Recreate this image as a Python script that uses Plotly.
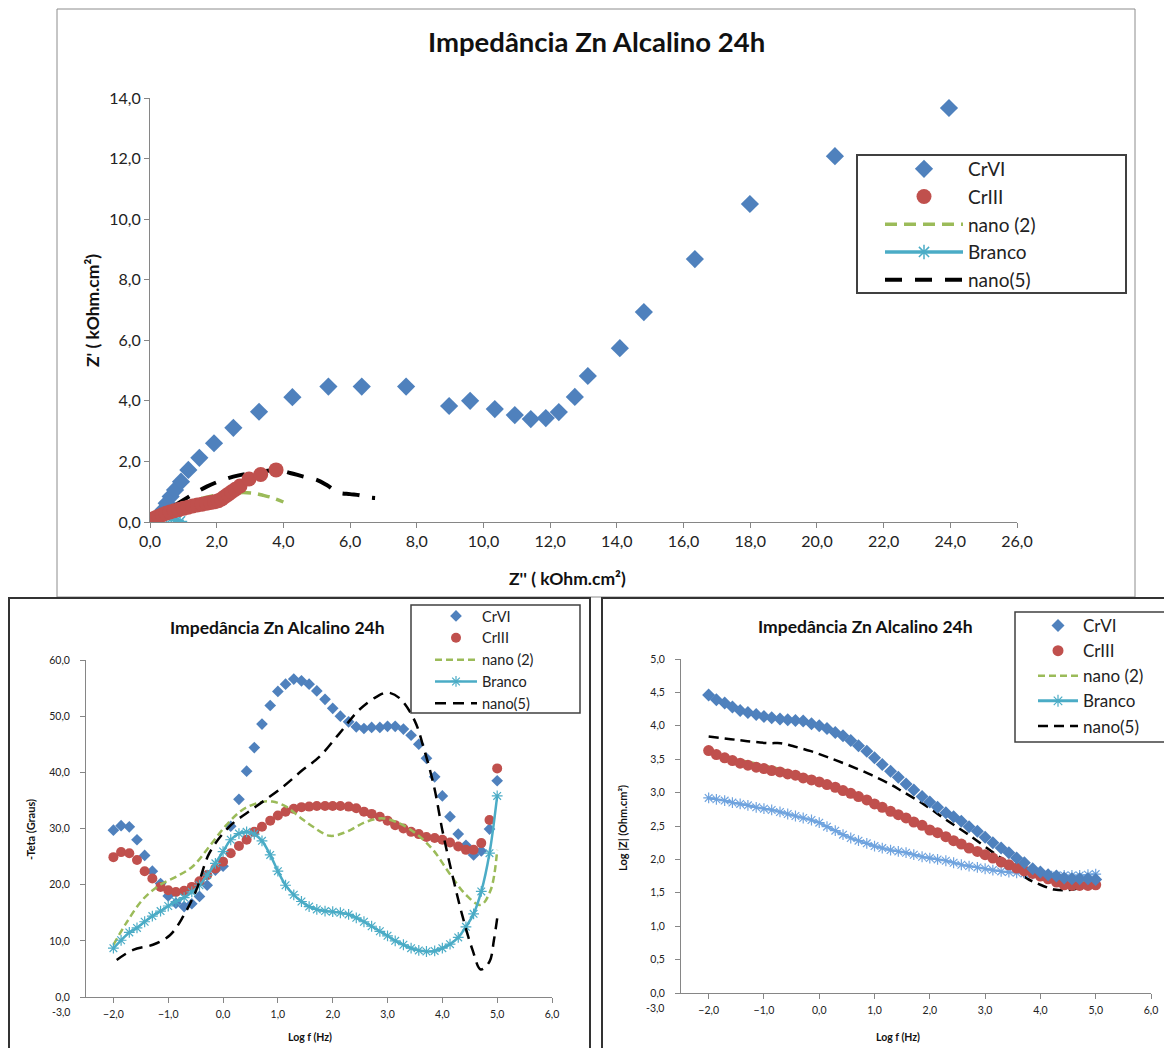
import plotly.graph_objects as go

# ---------------- DATA ----------------
# Nyquist (top chart), kOhm.cm2
NYQ_CRVI_X = [0.05, 0.12, 0.20, 0.30, 0.40, 0.50, 0.62, 0.75, 0.93, 1.15, 1.48, 1.92, 2.50, 3.27,
              4.27, 5.35, 6.35, 7.68, 8.97, 9.60, 10.34, 10.94, 11.42, 11.87, 12.26, 12.74, 13.13,
              14.09, 14.81, 16.34, 17.99, 20.54, 23.96]
NYQ_CRVI_Y = [0.00, 0.03, 0.10, 0.23, 0.40, 0.62, 0.84, 1.06, 1.33, 1.72, 2.12, 2.60, 3.11, 3.64,
              4.12, 4.47, 4.47, 4.47, 3.83, 4.00, 3.73, 3.53, 3.40, 3.43, 3.63, 4.13, 4.82,
              5.74, 6.93, 8.68, 10.50, 12.08, 13.67]
NYQ_CRIII_X = [0.00, 0.05, 0.10, 0.18, 0.27, 0.37, 0.48, 0.60, 0.73, 0.86, 1.00, 1.14, 1.28, 1.42,
               1.56, 1.70, 1.82, 1.94, 2.05, 2.15, 2.25, 2.35, 2.45, 2.56, 2.70, 2.97, 3.32, 3.78]
NYQ_CRIII_Y = [0.05, 0.08, 0.11, 0.15, 0.19, 0.24, 0.29, 0.33, 0.37, 0.41, 0.45, 0.49, 0.53, 0.56,
               0.59, 0.62, 0.64, 0.67, 0.70, 0.76, 0.84, 0.92, 1.00, 1.08, 1.19, 1.42, 1.57, 1.72]
NYQ_NANO2_X = [0.0, 0.3, 0.7, 1.0, 1.4, 2.0, 2.5, 2.8, 3.1, 3.4, 3.7, 4.0]
NYQ_NANO2_Y = [0.0, 0.22, 0.45, 0.58, 0.73, 0.89, 0.95, 0.97, 0.95, 0.88, 0.79, 0.66]
NYQ_BRANCO_X = [0.0, 0.1, 0.2, 0.35, 0.5, 0.65, 0.8, 0.9]
NYQ_BRANCO_Y = [0.0, 0.08, 0.14, 0.18, 0.17, 0.12, 0.06, 0.02]
NYQ_NANO5_X = [0.0, 0.4, 0.85, 1.7, 2.5, 3.2, 3.8, 4.2, 4.6, 5.0, 5.3, 5.65, 6.0, 6.3, 6.5, 6.75]
NYQ_NANO5_Y = [0.0, 0.30, 0.62, 1.17, 1.50, 1.64, 1.72, 1.62, 1.50, 1.39, 1.22, 0.97, 0.92, 0.88, 0.82, 0.79]

# Bode (bottom charts): log f, 7 points per decade
LOGF = [-2.00, -1.86, -1.71, -1.57, -1.43, -1.29, -1.14, -1.00, -0.86, -0.71, -0.57, -0.43, -0.29,
        -0.14, 0.00, 0.14, 0.29, 0.43, 0.57, 0.71, 0.86, 1.00, 1.14, 1.29, 1.43, 1.57, 1.71, 1.86,
        2.00, 2.14, 2.29, 2.43, 2.57, 2.71, 2.86, 3.00, 3.14, 3.29, 3.43, 3.57, 3.71, 3.86, 4.00,
        4.14, 4.29, 4.43, 4.57, 4.71, 4.86, 5.00]

# -Theta (degrees)
PH_CRVI = [29.7, 30.5, 30.3, 28.0, 25.2, 22.4, 20.2, 18.0, 16.7, 16.1, 16.6, 17.9, 19.9, 22.6, 23.3,
           30.4, 35.2, 40.2, 44.4, 48.6, 51.9, 54.4, 55.7, 56.6, 56.3, 55.7, 54.5, 53.0, 51.4, 50.0,
           49.0, 48.1, 47.8, 48.0, 48.0, 48.2, 48.2, 47.7, 46.6, 45.0, 42.5, 39.2, 35.8, 32.1, 29.0,
           27.0, 25.3, 26.0, 29.9, 38.5]
PH_CRIII = [24.9, 25.8, 25.6, 24.4, 22.4, 21.1, 19.6, 19.0, 18.7, 18.9, 19.6, 20.6, 21.7, 22.9, 24.1,
            25.6, 26.9, 28.0, 29.4, 30.3, 31.4, 32.3, 33.0, 33.5, 33.8, 33.9, 34.0, 34.0, 34.0, 34.0,
            33.9, 33.6, 33.0, 32.6, 32.1, 31.4, 30.6, 30.0, 29.4, 29.0, 28.5, 28.3, 28.0, 27.5, 26.8,
            26.2, 26.2, 27.4, 31.5, 40.7]
PH_BRANCO = [8.7, 10.1, 11.5, 12.3, 13.4, 14.4, 15.3, 16.2, 17.0, 17.7, 18.7, 19.9, 21.7, 23.8, 25.9,
             28.0, 29.1, 29.4, 29.0, 27.8, 25.3, 22.4, 19.9, 18.2, 17.0, 16.1, 15.6, 15.3, 15.2, 15.0,
             14.7, 14.1, 13.4, 12.6, 11.7, 10.9, 10.0, 9.3, 8.7, 8.3, 8.1, 8.2, 8.7, 9.4, 10.6,
             12.5, 14.8, 18.8, 25.6, 35.8]
PH_NANO2_X = [-2.0, -1.77, -1.47, -1.16, -0.86, -0.56, -0.25, 0.05, 0.35, 0.66, 0.9, 1.15, 1.39,
              1.64, 1.95, 2.25, 2.61, 2.92, 3.22, 3.52, 3.83, 4.13, 4.43, 4.70, 4.88, 5.0]
PH_NANO2_Y = [9.3, 13.1, 17.3, 19.9, 21.4, 23.2, 26.8, 30.5, 33.3, 34.6, 34.8, 33.9, 32.1,
              30.3, 28.7, 29.4, 31.2, 31.8, 30.9, 29.1, 26.2, 22.0, 18.2, 16.4, 19.0, 26.2]
PH_NANO5_X = [-1.94, -1.64, -1.28, -0.97, -0.73, -0.49, -0.25, 0.11, 0.6, 1.09, 1.45, 1.76, 2.12,
              2.48, 2.79, 3.0, 3.22, 3.49, 3.67, 3.85, 4.0, 4.19, 4.37, 4.55, 4.70, 4.86, 4.94, 5.0]
PH_NANO5_Y = [6.6, 8.4, 9.3, 11.0, 14.3, 19.0, 25.6, 30.3, 33.9, 37.4, 40.4, 42.8, 46.9,
              51.1, 53.4, 54.2, 53.2, 49.3, 44.0, 37.4, 29.7, 21.4, 14.3, 8.4, 4.9, 6.3, 10.1, 14.0]

# Log |Z| (Ohm.cm2)
MZ_CRVI = [4.46, 4.39, 4.34, 4.28, 4.23, 4.20, 4.17, 4.14, 4.12, 4.10, 4.09, 4.08, 4.07, 4.03, 4.00,
           3.96, 3.90, 3.85, 3.78, 3.70, 3.62, 3.52, 3.42, 3.32, 3.23, 3.13, 3.04, 2.94, 2.86, 2.78,
           2.70, 2.64, 2.57, 2.49, 2.42, 2.33, 2.25, 2.17, 2.10, 2.02, 1.95, 1.86, 1.81, 1.77, 1.75,
           1.72, 1.71, 1.71, 1.71, 1.70]
MZ_CRIII = [3.63, 3.57, 3.52, 3.48, 3.44, 3.41, 3.38, 3.36, 3.33, 3.31, 3.28, 3.26, 3.22, 3.19, 3.16,
            3.12, 3.08, 3.03, 2.99, 2.94, 2.89, 2.83, 2.78, 2.72, 2.67, 2.62, 2.56, 2.51, 2.44, 2.40,
            2.34, 2.28, 2.23, 2.17, 2.12, 2.07, 2.02, 1.96, 1.92, 1.87, 1.83, 1.79, 1.75, 1.71, 1.66,
            1.62, 1.61, 1.61, 1.61, 1.62]
MZ_BRANCO = [2.92, 2.90, 2.88, 2.85, 2.83, 2.81, 2.78, 2.76, 2.74, 2.71, 2.68, 2.65, 2.62, 2.59, 2.55,
             2.49, 2.43, 2.37, 2.32, 2.28, 2.24, 2.20, 2.17, 2.14, 2.12, 2.10, 2.07, 2.04, 2.02, 2.00,
             1.98, 1.95, 1.92, 1.90, 1.88, 1.86, 1.84, 1.82, 1.81, 1.80, 1.79, 1.78, 1.77, 1.77, 1.76,
             1.76, 1.76, 1.76, 1.77, 1.78]
MZ_NANO2_X = [-2.0, -1.5, -1.0, -0.5, 0.0, 0.5, 1.0, 1.5, 2.0, 2.5, 3.0, 3.5, 4.0, 4.5, 5.0]
MZ_NANO2_Y = [3.60, 3.50, 3.41, 3.31, 3.18, 3.01, 2.84, 2.64, 2.45, 2.26, 2.08, 1.91, 1.77, 1.68, 1.68]
MZ_NANO5_X = [-2.0, -1.6, -1.3, -0.9, -0.7, -0.45, -0.15, 0.15, 0.5, 0.9, 1.25, 1.5, 1.9, 2.3, 2.7,
              3.2, 3.5, 3.75, 4.0, 4.25, 4.5, 4.7, 5.0]
MZ_NANO5_Y = [3.84, 3.80, 3.77, 3.74, 3.74, 3.69, 3.62, 3.53, 3.42, 3.28, 3.14, 3.02, 2.82, 2.59, 2.37,
              2.07, 1.90, 1.72, 1.62, 1.55, 1.54, 1.57, 1.65]

TITLE = "Impedância Zn Alcalino 24h"
NAMES = ["CrVI", "CrIII", "nano (2)", "Branco", "nano(5)"]
FIRST_TICK_LABEL = "-3,0"

# ---------------- STYLE ----------------
C_CRVI = "#4F81BD"
C_CRIII = "#C0504D"
C_NANO2 = "#9BBB59"
C_BRANCO = "#4BACC6"
C_BRANCO_LIGHT = "#6FA3DE"
C_NANO5 = "#000000"
AX = "#868686"
FONT = "Lato"
OFF = 8                 # page body margin
W, H = 1172 - OFF, 1048 - OFF


def px(x):
    return (x - OFF) / W


def py(y):
    return 1 - (y - OFF) / H


fig = go.Figure()

# ---- Top chart (Nyquist) ----
fig.add_trace(go.Scatter(x=NYQ_CRVI_X, y=NYQ_CRVI_Y, name=NAMES[0], mode="markers",
                         marker=dict(symbol="diamond", size=14, color=C_CRVI),
                         xaxis="x", yaxis="y", legend="legend", legendrank=1))
fig.add_trace(go.Scatter(x=NYQ_NANO2_X, y=NYQ_NANO2_Y, name=NAMES[2], mode="lines",
                         line=dict(color=C_NANO2, width=3.5, dash="12px,7px", shape="spline"),
                         xaxis="x", yaxis="y", legend="legend", legendrank=3))
fig.add_trace(go.Scatter(x=NYQ_NANO5_X, y=NYQ_NANO5_Y, name=NAMES[4], mode="lines",
                         line=dict(color=C_NANO5, width=4, dash="17px,13px", shape="spline"),
                         xaxis="x", yaxis="y", legend="legend", legendrank=5))
fig.add_trace(go.Scatter(x=NYQ_BRANCO_X, y=NYQ_BRANCO_Y, name=NAMES[3], mode="lines+markers",
                         line=dict(color=C_BRANCO, width=3.5, shape="spline"),
                         marker=dict(symbol="asterisk-open", size=12,
                                     line=dict(color=C_BRANCO, width=1.5)),
                         xaxis="x", yaxis="y", legend="legend", legendrank=4))
fig.add_trace(go.Scatter(x=NYQ_CRIII_X, y=NYQ_CRIII_Y, name=NAMES[1], mode="markers",
                         marker=dict(symbol="circle", size=15, color=C_CRIII),
                         xaxis="x", yaxis="y", legend="legend", legendrank=2))

# ---- Bottom-left (phase) ----
fig.add_trace(go.Scatter(x=LOGF, y=PH_CRVI, name=NAMES[0], mode="markers",
                         marker=dict(symbol="diamond", size=9, color=C_CRVI),
                         xaxis="x2", yaxis="y2", legend="legend2", legendrank=1))
fig.add_trace(go.Scatter(x=LOGF, y=PH_CRIII, name=NAMES[1], mode="markers",
                         marker=dict(symbol="circle", size=10, color=C_CRIII),
                         xaxis="x2", yaxis="y2", legend="legend2", legendrank=2))
fig.add_trace(go.Scatter(x=PH_NANO2_X, y=PH_NANO2_Y, name=NAMES[2], mode="lines",
                         line=dict(color=C_NANO2, width=2.5, dash="7px,4px", shape="spline"),
                         xaxis="x2", yaxis="y2", legend="legend2", legendrank=3))
fig.add_trace(go.Scatter(x=LOGF, y=PH_BRANCO, name=NAMES[3], mode="lines+markers",
                         line=dict(color=C_BRANCO, width=2.5, shape="spline"),
                         marker=dict(symbol="asterisk-open", size=9,
                                     line=dict(color=C_BRANCO, width=1.2)),
                         xaxis="x2", yaxis="y2", legend="legend2", legendrank=4))
fig.add_trace(go.Scatter(x=PH_NANO5_X, y=PH_NANO5_Y, name=NAMES[4], mode="lines",
                         line=dict(color=C_NANO5, width=2.5, dash="11px,7px", shape="spline"),
                         xaxis="x2", yaxis="y2", legend="legend2", legendrank=5))

# ---- Bottom-right (|Z|) ----
fig.add_trace(go.Scatter(x=MZ_NANO5_X, y=MZ_NANO5_Y, name=NAMES[4], mode="lines",
                         line=dict(color=C_NANO5, width=2.5, dash="10px,6px", shape="spline"),
                         xaxis="x3", yaxis="y3", legend="legend3", legendrank=5))
fig.add_trace(go.Scatter(x=MZ_NANO2_X, y=MZ_NANO2_Y, name=NAMES[2], mode="lines",
                         line=dict(color=C_NANO2, width=2.5, dash="7px,4px", shape="spline"),
                         xaxis="x3", yaxis="y3", legend="legend3", legendrank=3))
fig.add_trace(go.Scatter(x=LOGF, y=MZ_BRANCO, name=NAMES[3], mode="lines+markers",
                         line=dict(color=C_BRANCO_LIGHT, width=2, shape="spline"),
                         marker=dict(symbol="asterisk-open", size=9,
                                     line=dict(color=C_BRANCO_LIGHT, width=1.2)),
                         xaxis="x3", yaxis="y3", showlegend=False))
fig.add_trace(go.Scatter(x=[None], y=[None], name=NAMES[3], mode="lines+markers",
                         line=dict(color=C_BRANCO, width=3),
                         marker=dict(symbol="asterisk-open", size=10,
                                     line=dict(color=C_BRANCO, width=1.2)),
                         xaxis="x3", yaxis="y3", legend="legend3", legendrank=4))
fig.add_trace(go.Scatter(x=LOGF, y=MZ_CRIII, name=NAMES[1], mode="markers",
                         marker=dict(symbol="circle", size=11, color=C_CRIII),
                         xaxis="x3", yaxis="y3", legend="legend3", legendrank=2))
fig.add_trace(go.Scatter(x=LOGF, y=MZ_CRVI, name=NAMES[0], mode="markers",
                         marker=dict(symbol="diamond", size=10, color=C_CRVI),
                         xaxis="x3", yaxis="y3", legend="legend3", legendrank=1))


def axis(domain, rng, dtick, tick0, anchor, fsize, standoff=0):
    return dict(domain=domain, range=rng, dtick=dtick, tick0=tick0, anchor=anchor,
                showline=True, linecolor=AX, linewidth=1, ticks="outside", ticklen=5,
                tickcolor=AX, showgrid=False, zeroline=False, tickformat=".1f",
                automargin=False, fixedrange=True, ticklabelstandoff=standoff,
                tickfont=dict(family=FONT, size=fsize, color="#222"))


def legend(x, y, size, itemwidth):
    return dict(x=px(x), y=py(y), xanchor="left", yanchor="top", bgcolor="rgba(0,0,0,0)",
                borderwidth=0, font=dict(family=FONT, size=size, color="#222"),
                itemwidth=itemwidth, traceorder="normal")


fig.update_layout(
    template="none",
    width=W, height=H, margin=dict(l=0, r=0, t=0, b=0, pad=0), autosize=False,
    paper_bgcolor="white", plot_bgcolor="white", separators=",.",
    font=dict(family=FONT, color="#111"),
    xaxis=axis([px(150), px(1017)], [0, 26], 2, 0, "y", 16),
    yaxis=axis([py(522), py(98)], [0, 14], 2, 0, "x", 16),
    xaxis2=axis([px(86), px(552)], [-2.5, 6], 1, -3, "y2", 10.5, 2),
    yaxis2=axis([py(997), py(660)], [0, 60], 10, 0, "x2", 10.5, 8),
    xaxis3=axis([px(681), px(1151)], [-2.5, 6], 1, -3, "y3", 10.5, 2),
    yaxis3=axis([py(993), py(659)], [0, 5], 0.5, 0, "x3", 10.5, 8),
    legend=legend(880, 150, 19, 78),
    legend2=legend(430, 600, 14.5, 42),
    legend3=legend(1033, 608, 17, 40),
    showlegend=True,
)

# Chart frames
fig.add_shape(type="rect", xref="paper", yref="paper", x0=px(57), x1=px(1135), y0=py(597), y1=py(9),
              line=dict(color="#8c8c8c", width=1), layer="below")
fig.add_shape(type="rect", xref="paper", yref="paper", x0=px(9), x1=px(590), y0=py(1052), y1=py(598),
              line=dict(color="#333", width=2), layer="below")
fig.add_shape(type="rect", xref="paper", yref="paper", x0=px(602), x1=px(1180), y0=py(1052), y1=py(598),
              line=dict(color="#333", width=2), layer="below")
# Legend boxes
fig.add_shape(type="rect", xref="paper", yref="paper", x0=px(857), x1=px(1126), y0=py(293), y1=py(155),
              line=dict(color="#404040", width=2), fillcolor="white", layer="above")
fig.add_shape(type="rect", xref="paper", yref="paper", x0=px(411), x1=px(580), y0=py(713), y1=py(605),
              line=dict(color="#404040", width=1.5), fillcolor="white", layer="above")
fig.add_shape(type="rect", xref="paper", yref="paper", x0=px(1015), x1=px(1180), y0=py(742), y1=py(612),
              line=dict(color="#404040", width=1.5), fillcolor="white", layer="above")


# Titles and axis titles
def ann(text, x, y, size, angle=0, bold=True):
    fig.add_annotation(text=text, x=px(x), y=py(y), xref="paper", yref="paper", showarrow=False,
                       textangle=angle, xanchor="center", yanchor="middle",
                       font=dict(family=FONT, size=size, color="#111" if bold else "#222",
                                 weight="bold" if bold else "normal"))


ann(TITLE, 596, 42, 27.5)
ann("Z' ( kOhm.cm²)", 92, 310, 17.5, -90)
ann("Z'' ( kOhm.cm²)", 567, 578, 17.5)
ann(TITLE, 277, 627, 17.5)
ann("-Teta (Graus)", 30, 830, 11, -90)
ann("Log f (Hz)", 310, 1037, 10.5)
ann(TITLE, 865, 626, 17.5)
ann("Log |Z| (Ohm.cm²)", 622, 828, 11, -90)
ann("Log f (Hz)", 898, 1037, 10.5)
# first x tick label, left of the vertical axis
ann(FIRST_TICK_LABEL, 61, 1012, 10.5, bold=False)
ann(FIRST_TICK_LABEL, 655, 1008, 10.5, bold=False)

fig.write_html("out.html")
